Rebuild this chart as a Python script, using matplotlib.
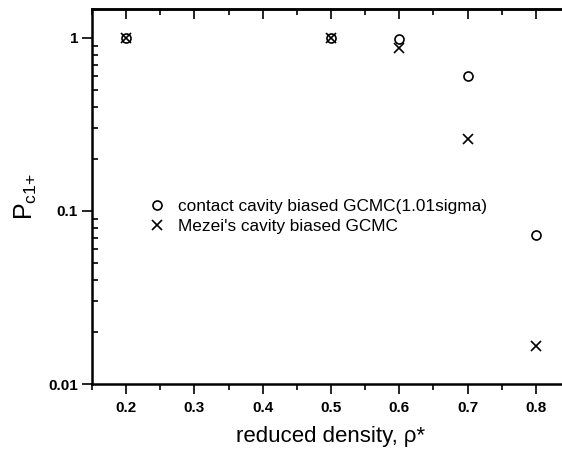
import matplotlib
matplotlib.use("Agg")
import matplotlib.pyplot as plt
from matplotlib.ticker import FixedLocator, LogLocator, NullFormatter, FixedFormatter

plt.rcParams['font.family'] = ['Liberation Sans', 'DejaVu Sans']
plt.rcParams['mathtext.fontset'] = 'custom'
plt.rcParams['mathtext.rm'] = 'Liberation Sans'
plt.rcParams['mathtext.it'] = 'Liberation Sans'

# data
density = [0.2, 0.5, 0.6, 0.7, 0.8]
p_contact = [1.0, 1.0, 0.98, 0.60, 0.073]
p_mezei = [1.0, 1.0, 0.87, 0.26, 0.0165]

x_ticks = [0.2, 0.3, 0.4, 0.5, 0.6, 0.7, 0.8]
x_minor = [0.15, 0.25, 0.35, 0.45, 0.55, 0.65, 0.75]
y_ticks = [0.01, 0.1, 1]
y_ticklabels = ["0.01", "0.1", "1"]

fig = plt.figure(figsize=(5.62, 4.49), dpi=100)
# right spine sits just outside the cropped scan
ax = fig.add_axes([92 / 562, 1 - 384 / 449, 478 / 562, 375 / 449])

ax.plot(density, p_contact, linestyle="none", marker="o", ms=6.5,
        mfc="none", mec="black", mew=1.2,
        label="contact cavity biased GCMC(1.01sigma)")
ax.plot(density, p_mezei, linestyle="none", marker="x", ms=6.5,
        color="black", mew=1.2, label="Mezei's cavity biased GCMC")

ax.set_yscale("log")
ax.set_xlim(0.15, 0.85)
ax.set_ylim(0.01, 1.47)

ax.xaxis.set_major_locator(FixedLocator(x_ticks))
ax.xaxis.set_minor_locator(FixedLocator(x_minor))
ax.set_xticklabels([f"{t:.1f}" for t in x_ticks], fontsize=11, fontweight="bold")
ax.yaxis.set_major_locator(FixedLocator(y_ticks))
ax.yaxis.set_major_formatter(FixedFormatter(y_ticklabels))
ax.yaxis.set_minor_locator(LogLocator(base=10, subs=range(2, 10)))
ax.yaxis.set_minor_formatter(NullFormatter())
for lab in ax.get_yticklabels():
    lab.set_fontsize(11)
    lab.set_fontweight("bold")

ax.tick_params(axis="x", which="major", direction="out", length=7, width=1.2, pad=5)
ax.tick_params(axis="x", which="minor", direction="out", length=4, width=1.2)
ax.tick_params(axis="y", which="major", direction="out", length=7, width=1.2, pad=3)
ax.tick_params(axis="y", which="minor", direction="in", length=4, width=1.2)

top = ax.secondary_xaxis("top")
top.xaxis.set_major_locator(FixedLocator(x_ticks))
top.xaxis.set_minor_locator(FixedLocator(x_minor))
top.tick_params(which="major", direction="in", length=7, width=1.2, labeltop=False)
top.tick_params(which="minor", direction="in", length=4, width=1.2)
top.spines["top"].set_linewidth(1.8)

for s in ax.spines.values():
    s.set_linewidth(1.8)

ax.set_xlabel("reduced density, \u03c1*", fontsize=16, labelpad=8)
ax.set_ylabel(r"$\mathregular{P_{c1{+}}}$", fontsize=18, labelpad=7)

ax.legend(loc="center left", bbox_to_anchor=(0.118, 0.447), frameon=False,
          fontsize=12.4, handlelength=1.0, handletextpad=0.7, labelspacing=0.3,
          borderpad=0, borderaxespad=0)

fig.savefig("out.png", dpi=100)
